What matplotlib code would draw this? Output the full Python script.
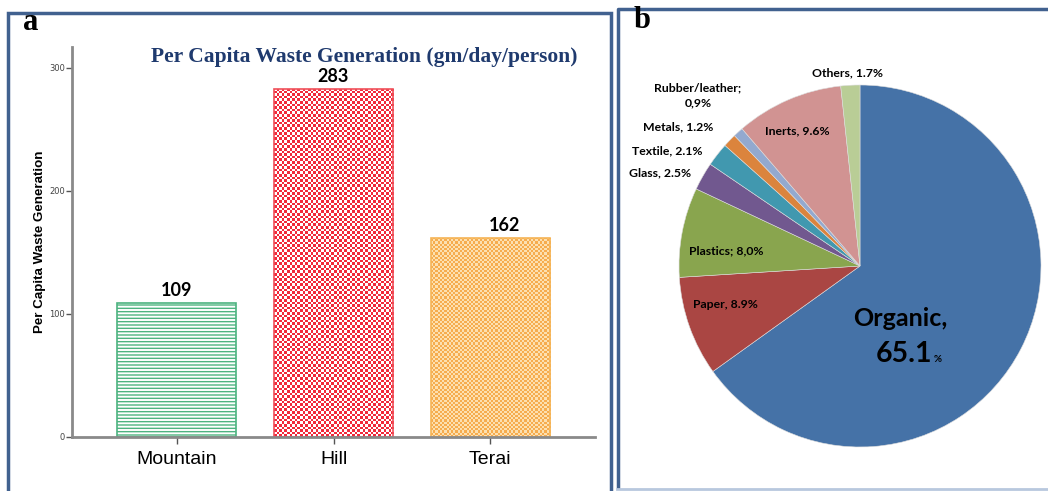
import numpy as np
import matplotlib
matplotlib.use("Agg")
import matplotlib.pyplot as plt
from matplotlib.patches import Rectangle
from matplotlib.lines import Line2D

# ---------------- data ----------------
regions = ["Mountain", "Hill", "Terai"]
per_capita = [109, 283, 162]
y_ticks = [0, 100, 200, 300]

waste_types = ["Organic", "Paper", "Plastics", "Glass", "Textile",
               "Metals", "Rubber/leather", "Inerts", "Others"]
waste_share = [65.1, 8.9, 8.0, 2.5, 2.1, 1.2, 0.9, 9.6, 1.7]
waste_labels = ["", "Paper, 8.9%", "Plastics; 8,0%", "Glass, 2.5%", "Textile, 2.1%",
                "Metals, 1.2%", "Rubber/leather;\n0,9%", "Inerts, 9.6%", "Others, 1.7%"]
pie_colors = ["#4572A7", "#AA4643", "#89A54E", "#71588F", "#4198AF",
              "#DB843D", "#93A9CF", "#D19392", "#B9CD96"]

W, H = 1048, 491
fig = plt.figure(figsize=(W / 100, H / 100), dpi=100)

def fx(px):
    return px / W

def fy(py):
    return 1 - py / H

# panel borders
border = "#41618F"
fig.patches.append(Rectangle((fx(8), fy(500)), fx(603), fy(13) - fy(500), transform=fig.transFigure,
                             fill=False, edgecolor=border, linewidth=2.5))
fig.lines.append(Line2D([fx(618), fx(618), fx(1060)], [fy(487), fy(9), fy(9)],
                        transform=fig.transFigure, color=border, linewidth=2.5))
fig.lines.append(Line2D([fx(617), fx(1060)], [fy(489), fy(489)],
                        transform=fig.transFigure, color="#B8C8DE", linewidth=2))
fig.text(fx(31), fy(22), "a", fontsize=22, fontweight="bold", family="Liberation Serif",
         ha="center", va="center")
fig.text(fx(642), fy(20), "b", fontsize=22, fontweight="bold", family="Liberation Serif",
         ha="center", va="center")

# ---------------- panel a : bar chart ----------------
ax = fig.add_axes([fx(72), fy(437), fx(595) - fx(72), fy(47) - fy(437)])
ax.set_xlim(-0.67, 2.67)
ax.set_ylim(0, 317)
x = np.arange(len(regions))
bw = 0.76

b_m = ax.bar(x[0], per_capita[0], width=bw, facecolor="white", edgecolor="#4DB380",
             hatch="-----", linewidth=1.2, zorder=2)

def checker(ax, bar, c1, c2, cell_px):
    r = bar.patches[0]
    x0, w, h = r.get_x(), r.get_width(), r.get_height()
    p0 = ax.transData.transform((x0, 0))
    p1 = ax.transData.transform((x0 + w, h))
    nx = max(1, int(round((p1[0] - p0[0]) / cell_px)))
    ny = max(1, int(round((p1[1] - p0[1]) / cell_px)))
    ii, jj = np.meshgrid(np.arange(nx), np.arange(ny))
    mask = (ii + jj) % 2
    img = np.where(mask[..., None] == 1, np.array(matplotlib.colors.to_rgb(c1)),
                   np.array(matplotlib.colors.to_rgb(c2)))
    im = ax.imshow(img, extent=(x0, x0 + w, 0, h), interpolation="nearest",
                   aspect="auto", zorder=1.5)
    im.set_clip_path(r)

b_h = ax.bar(x[1], per_capita[1], width=bw, facecolor="none", edgecolor="#F0505A",
             linewidth=1.2, zorder=2)
checker(ax, b_h, "#F2283A", "#FFFFFF", 2.6)
b_t = ax.bar(x[2], per_capita[2], width=bw, facecolor="none", edgecolor="#F5B456",
             linewidth=1.2, zorder=2)
checker(ax, b_t, "#F6AC4E", "#FCE0B0", 2.2)
ax.set_xlim(-0.67, 2.67)
ax.set_ylim(0, 317)

offsets = [0, 0, 0.09]
for xi, v, off in zip(x, per_capita, offsets):
    ax.text(xi + off, v + 3, str(v), ha="center", va="bottom", fontsize=13,
            fontweight="bold", family="Lato")

for s in ["top", "right"]:
    ax.spines[s].set_visible(False)
for s in ["left", "bottom"]:
    ax.spines[s].set_color("#8A8A8A")
    ax.spines[s].set_linewidth(2)
ax.set_yticks(y_ticks)
ax.set_yticklabels([str(t) for t in y_ticks], fontsize=6, color="#444444")
ax.tick_params(axis="y", length=4, width=1, color="#555555", pad=1)
ax.set_xticks(x)
ax.set_xticklabels(regions, fontsize=14, family="Liberation Sans")
ax.tick_params(axis="x", length=5, width=1, color="#555555", pad=5)
ax.set_ylabel("Per Capita Waste Generation", fontsize=9.6, fontweight="bold",
              family="Liberation Sans", labelpad=2)
ax.patch.set_alpha(0)

fig.text(fx(364), fy(57), "Per Capita Waste Generation (gm/day/person)", fontsize=15.5,
         fontweight="bold", family="Liberation Serif", color="#1F3A6E",
         ha="center", va="center")

# ---------------- panel b : pie chart ----------------
cx, cy, R = 860, 266, 181
pax = fig.add_axes([fx(cx - R), fy(cy + R), fx(2 * R), fy(cy - R) - fy(cy + R)])
pax.pie(waste_share, colors=pie_colors, startangle=90, counterclock=False,
        radius=1.0, wedgeprops=dict(linewidth=0.4, edgecolor="#DDDDDD"))
pax.set_xlim(-1, 1)
pax.set_ylim(-1, 1)
pax.set_aspect("auto")
pax.axis("off")

def d(px, py):
    return ((px - cx) / R, (cy - py) / R)

label_pos = [None, (725, 304), (726, 251), (660, 173), (667, 151),
             (678, 127), (698, 95), (797, 131), (848, 73)]
for lab, pos in zip(waste_labels, label_pos):
    if not lab:
        continue
    pax.text(*d(*pos), lab, ha="center", va="center", fontsize=8.8, fontweight="bold",
             family="Lato", linespacing=1.45, clip_on=False)

pax.text(*d(900, 318), "Organic,", ha="center", va="center", fontsize=18,
         fontweight="bold", family="Lato", clip_on=False)
pax.text(*d(904, 354), "65.1", ha="center", va="center", fontsize=20.5,
         fontweight="bold", family="Lato", clip_on=False)
pax.text(*d(938, 359), "%", ha="center", va="center", fontsize=7,
         fontweight="bold", family="Lato", clip_on=False)

fig.savefig("out.png", dpi=100)
